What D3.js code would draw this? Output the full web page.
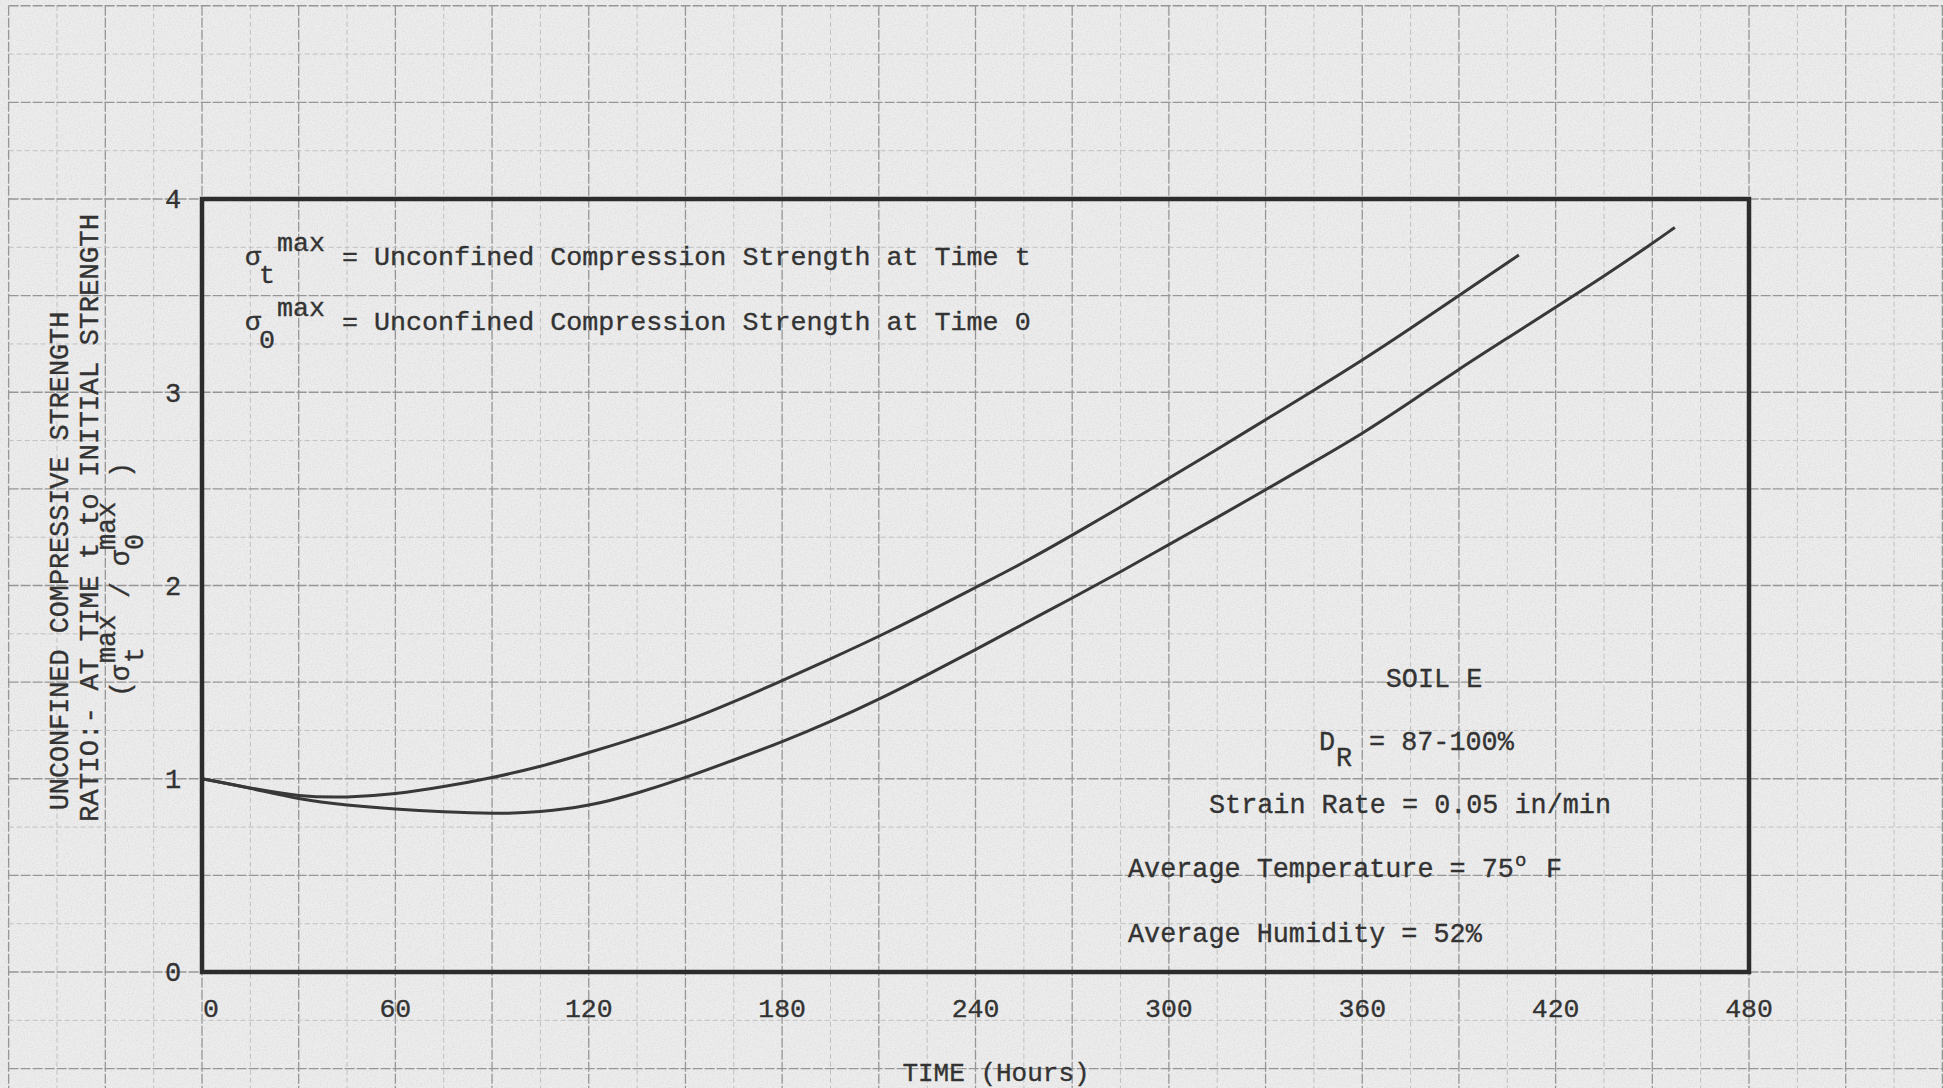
<!DOCTYPE html>
<html>
<head>
<meta charset="utf-8">
<script src="https://cdn.jsdelivr.net/npm/d3@7"></script>
<style>
  html, body { margin: 0; padding: 0; background: #ececec; }
  svg { display: block; }
  text { font-family: "Liberation Mono", "DejaVu Sans Mono", monospace; fill: #333; stroke: #333; stroke-width: 0.35px; }
</style>
</head>
<body>
<div id="viz"></div>
<script>
// strength ratio vs time, soil E

const timeTicks = [0, 60, 120, 180, 240, 300, 360, 420, 480];
const ratioTicks = [0, 1, 2, 3, 4];

// [hours, ratio]
const upperCurve = [
    [0, 1.0], [15, 0.952], [30, 0.907], [45, 0.902], [60, 0.92], [75, 0.958],
    [90, 1.005], [105, 1.062], [120, 1.135], [135, 1.212], [150, 1.295], [165, 1.398],
    [180, 1.508], [195, 1.62], [210, 1.736], [225, 1.86], [240, 1.99], [255, 2.118],
    [270, 2.26], [285, 2.405], [300, 2.555], [315, 2.705], [330, 2.858], [345, 3.01],
    [360, 3.165], [375, 3.33], [390, 3.50], [408.6, 3.71]
];
const lowerCurve = [
    [0, 1.0], [15, 0.952], [30, 0.893], [45, 0.862], [60, 0.842], [75, 0.828],
    [90, 0.818], [105, 0.826], [120, 0.858], [135, 0.924], [150, 1.005], [165, 1.097],
    [180, 1.19], [195, 1.295], [210, 1.41], [225, 1.537], [240, 1.668], [255, 1.802],
    [270, 1.935], [285, 2.07], [300, 2.212], [315, 2.352], [330, 2.495], [345, 2.64],
    [360, 2.785], [375, 2.95], [390, 3.12], [405, 3.28], [420, 3.44], [435, 3.60],
    [450, 3.77], [457, 3.853]
];

const width = 1943;
const height = 1088;

const svg = d3.select("#viz").append("svg")
    .attr("width", width)
    .attr("height", height);

const x = d3.scaleLinear().domain([0, 480]).range([202, 1749]);
const y = d3.scaleLinear().domain([0, 4]).range([972, 199]);

// paper + a bit of grain
const defs = svg.append("defs");
const grain = defs.append("filter").attr("id", "grain")
    .attr("x", 0).attr("y", 0).attr("width", "100%").attr("height", "100%");
grain.append("feTurbulence")
    .attr("type", "fractalNoise")
    .attr("baseFrequency", 0.7)
    .attr("numOctaves", 2)
    .attr("seed", 4);
grain.append("feColorMatrix")
    .attr("type", "matrix")
    .attr("values", "0 0 0 0 0.35  0 0 0 0 0.35  0 0 0 0 0.35  0 0 0 -0.35 0.22");

svg.append("rect").attr("width", width).attr("height", height).attr("fill", "#ededed");
svg.append("rect").attr("width", width).attr("height", height).attr("filter", "url(#grain)");

// graph paper grid, runs past the frame
const gridX = d3.range(-60, 541, 15);
const gridY = d3.range(-0.5, 5.01, 0.25);
const isMajorY = d => Math.abs(d * 2 - Math.round(d * 2)) < 1e-6;
const grid = svg.append("g");

grid.selectAll("line.vx")
    .data(gridX)
    .join("line")
    .attr("x1", d => x(d)).attr("x2", d => x(d))
    .attr("y1", y(5)).attr("y2", height)
    .attr("stroke", d => d % 30 === 0 ? "#969696" : "#c0c0c0")
    .attr("stroke-width", d => d % 30 === 0 ? 1.3 : 1)
    .attr("stroke-dasharray", d => d % 30 === 0 ? "10,2" : "5,3");

grid.selectAll("line.hy")
    .data(gridY)
    .join("line")
    .attr("x1", x(-60)).attr("x2", width)
    .attr("y1", d => y(d)).attr("y2", d => y(d))
    .attr("stroke", d => isMajorY(d) ? "#969696" : "#c0c0c0")
    .attr("stroke-width", d => isMajorY(d) ? 1.3 : 1)
    .attr("stroke-dasharray", d => isMajorY(d) ? "10,2" : "5,3");

// curves
const line = d3.line()
    .x(d => x(d[0]))
    .y(d => y(d[1]))
    .curve(d3.curveBasis);

[upperCurve, lowerCurve].forEach(c => {
    svg.append("path")
        .attr("d", line(c))
        .attr("fill", "none")
        .attr("stroke", "#383838")
        .attr("stroke-width", 3);
});

// frame
svg.append("rect")
    .attr("x", x(0)).attr("y", y(4))
    .attr("width", x(480) - x(0))
    .attr("height", y(0) - y(4))
    .attr("fill", "none")
    .attr("stroke", "#2c2c2c")
    .attr("stroke-width", 4.5);

// tick labels
svg.selectAll("text.xt")
    .data(timeTicks)
    .join("text")
    .attr("x", d => d === 0 ? x(d) + 1 : x(d))
    .attr("y", 1017)
    .attr("text-anchor", d => d === 0 ? "start" : "middle")
    .attr("font-size", "26.5px")
    .text(d => d);

svg.selectAll("text.yt")
    .data(ratioTicks)
    .join("text")
    .attr("x", 173)
    .attr("y", d => y(d))
    .attr("dy", "0.35em")
    .attr("text-anchor", "middle")
    .attr("font-size", "27px")
    .text(d => d);

// axis titles
svg.append("text")
    .attr("x", 996).attr("y", 1081)
    .attr("text-anchor", "middle")
    .attr("font-size", "26px")
    .text("TIME (Hours)");

const yt = svg.append("g").attr("transform", "rotate(-90)");
yt.append("text")
    .attr("x", -561).attr("y", 68)
    .attr("text-anchor", "middle")
    .attr("font-size", "26.8px")
    .text("UNCONFINED COMPRESSIVE STRENGTH");
yt.append("text")
    .attr("x", -518).attr("y", 98)
    .attr("text-anchor", "middle")
    .attr("font-size", "27.4px")
    .text("RATIO:- AT TIME t to INITIAL STRENGTH");

// (sigma_t^max / sigma_0^max), rotated
const r3 = [
    { t: "(\u03c3", x: -697, y: 129 },
    { t: "t", x: -663, y: 143 },
    { t: "max", x: -663, y: 115 },
    { t: "/", x: -598, y: 129 },
    { t: "\u03c3", x: -566, y: 129 },
    { t: "0", x: -550, y: 143 },
    { t: "max", x: -550, y: 115 },
    { t: ")", x: -478, y: 129 }
];
yt.selectAll("text.r3")
    .data(r3)
    .join("text")
    .attr("x", d => d.x).attr("y", d => d.y)
    .attr("font-size", "26.8px")
    .text(d => d.t);

// definitions, top left
const defLines = [
    { sub: "t", base: 265, text: "= Unconfined Compression Strength at Time t" },
    { sub: "0", base: 330, text: "= Unconfined Compression Strength at Time 0" }
];
defLines.forEach(d => {
    const g = svg.append("g").attr("font-size", "26.7px");
    g.append("text").attr("x", 245).attr("y", d.base).text("\u03c3");
    g.append("text").attr("x", 259).attr("y", d.base + 18).text(d.sub);
    g.append("text").attr("x", 277).attr("y", d.base - 14).text("max");
    g.append("text").attr("x", 342).attr("y", d.base).text(d.text);
});

// soil info, lower right
const info = svg.append("g").attr("font-size", "26.8px");
info.append("text").attr("x", 1434).attr("y", 687).attr("text-anchor", "middle").text("SOIL E");
info.append("text").attr("x", 1319).attr("y", 750).text("D");
info.append("text").attr("x", 1336).attr("y", 766).text("R");
info.append("text").attr("x", 1369).attr("y", 750).text("= 87-100%");
info.append("text").attr("x", 1209).attr("y", 813).text("Strain Rate = 0.05 in/min");
info.append("text").attr("x", 1128).attr("y", 877).text("Average Temperature = 75");
info.append("text").attr("x", 1515).attr("y", 866).attr("font-size", "19px").text("o");
info.append("text").attr("x", 1546).attr("y", 877).text("F");
info.append("text").attr("x", 1128).attr("y", 942).text("Average Humidity = 52%");
</script>
</body>
</html>
